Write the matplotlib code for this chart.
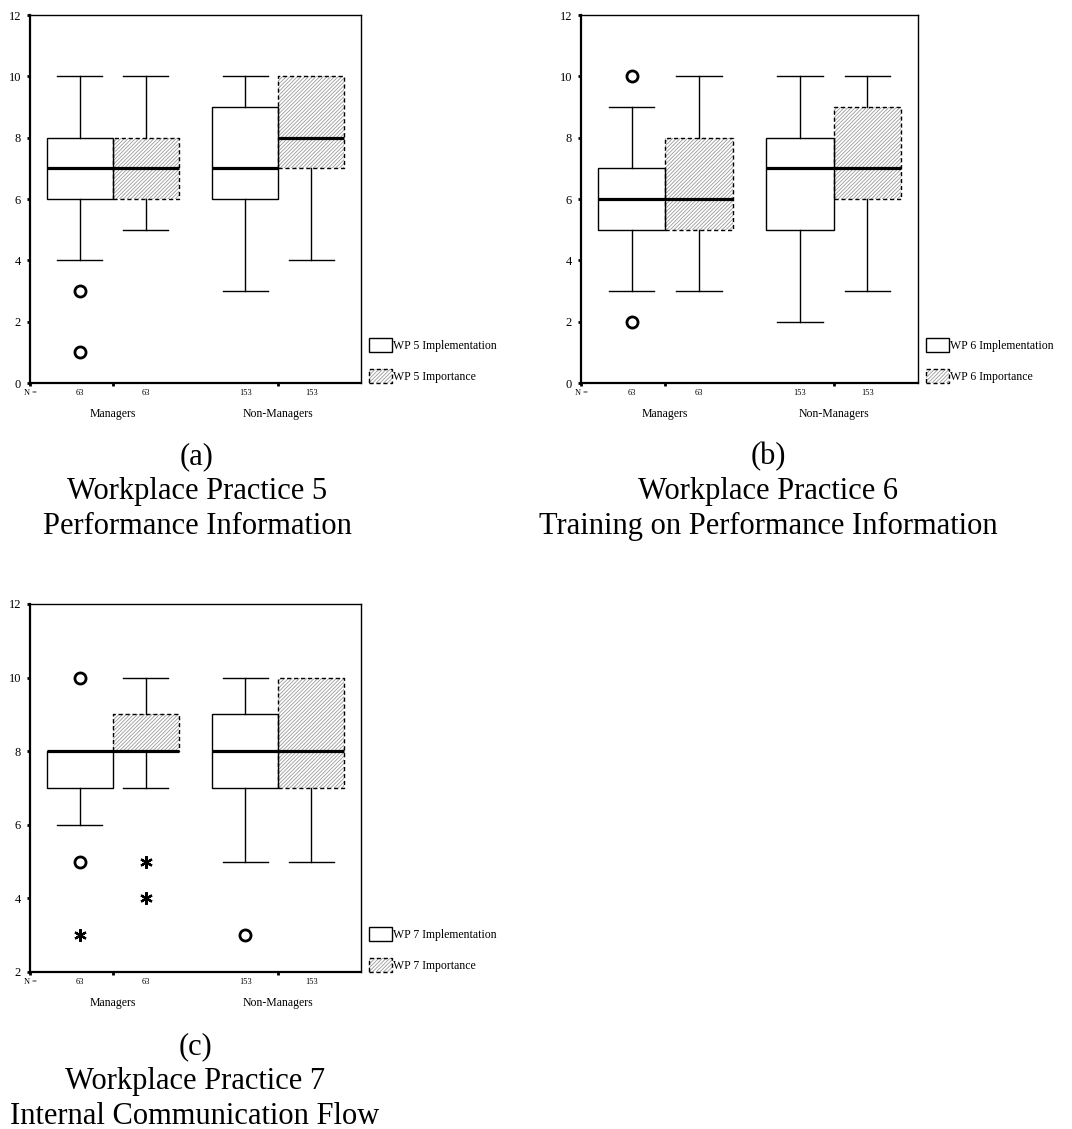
import matplotlib
matplotlib.use("Agg")
import matplotlib.pyplot as plt
from matplotlib.patches import Patch
from matplotlib.legend_handler import HandlerTuple

plt.rcParams['font.family'] = ['Liberation Serif', 'DejaVu Serif']
plt.rcParams['hatch.linewidth'] = 0.6

groups = ["Managers", "Non-Managers"]
group_n = [63, 153]

# five-number summaries per group: (low whisker, q1, median, q3, high whisker)
wp5_impl = [(4, 6, 7, 8, 10), (3, 6, 7, 9, 10)]
wp5_imp = [(5, 6, 7, 8, 10), (4, 7, 8, 10, 10)]
wp5_impl_out = [[3, 1], []]
wp5_imp_out = [[], []]
wp5_impl_ext = [[], []]
wp5_imp_ext = [[], []]

wp6_impl = [(3, 5, 6, 7, 9), (2, 5, 7, 8, 10)]
wp6_imp = [(3, 5, 6, 8, 10), (3, 6, 7, 9, 10)]
wp6_impl_out = [[10, 2], []]
wp6_imp_out = [[], []]
wp6_impl_ext = [[], []]
wp6_imp_ext = [[], []]

wp7_impl = [(6, 7, 8, 8, 8), (5, 7, 8, 9, 10)]
wp7_imp = [(7, 8, 8, 9, 10), (5, 7, 8, 10, 10)]
wp7_impl_out = [[10, 5], [3]]
wp7_imp_out = [[], []]
wp7_impl_ext = [[3], []]
wp7_imp_ext = [[5, 4], []]

captions = [
    ["(a)", "Workplace Practice 5", "Performance Information"],
    ["(b)", "Workplace Practice 6", "Training on Performance Information"],
    ["(c)", "Workplace Practice 7", "Internal Communication Flow"],
]

IMPL_POS = [0.75, 3.25]
IMP_POS = [1.75, 4.25]
GROUP_POS = [1.25, 3.75]
HATCH = '/' * 9
HATCH_GREY = '#9a9a9a'


def to_stats(summaries, outliers):
    return [dict(whislo=s[0], q1=s[1], med=s[2], q3=s[3], whishi=s[4], fliers=o)
            for s, o in zip(summaries, outliers)]


def draw_panel(ax, wp, impl, imp, impl_out, imp_out, impl_ext, imp_ext, ylow):
    line = dict(color='black', linewidth=1.0)
    median = dict(color='black', linewidth=2.3)
    flier = dict(marker='o', markerfacecolor='none', markeredgecolor='black',
                 markeredgewidth=2, markersize=8, linestyle='none')

    # implementation: plain white boxes
    ax.bxp(to_stats(impl, impl_out), positions=IMPL_POS, widths=1.0, capwidths=0.68,
           patch_artist=True, boxprops=dict(facecolor='white', edgecolor='black', linewidth=1.0),
           whiskerprops=line, capprops=line, medianprops=median, flierprops=flier,
           manage_ticks=False, zorder=2)

    # importance: grey hatch fill, then dashed outline on top
    imp_stats = to_stats(imp, imp_out)
    ax.bxp(imp_stats, positions=IMP_POS, widths=1.0, patch_artist=True,
           showcaps=False, showfliers=False,
           boxprops=dict(facecolor='white', edgecolor=HATCH_GREY, hatch=HATCH, linewidth=0),
           whiskerprops=dict(visible=False), medianprops=dict(visible=False),
           manage_ticks=False, zorder=1)
    parts = ax.bxp(imp_stats, positions=IMP_POS, widths=1.0, capwidths=0.68,
                   boxprops=dict(color='black', linewidth=1.0, linestyle=(0, (3, 2))),
                   whiskerprops=line, capprops=line, medianprops=median, flierprops=flier,
                   manage_ticks=False, zorder=2)
    for i, s in enumerate(imp_stats):
        if s['whishi'] == s['q3']:
            parts['caps'][2 * i + 1].set_visible(False)

    # extreme values as asterisks
    for pos, ext in zip(IMPL_POS + IMP_POS, impl_ext + imp_ext):
        if ext:
            ax.plot([pos] * len(ext), ext, linestyle='none', marker=(6, 2, 0),
                    markersize=9, markeredgewidth=1.6, color='black', zorder=3)

    ax.set_xlim(0, 5)
    ax.set_ylim(ylow, 12)
    ax.set_yticks(range(ylow, 13, 2))
    ax.set_xticks([0] + GROUP_POS)
    ax.set_xticklabels([])
    ax.tick_params(length=2.5, width=2, direction='out', colors='black')
    ax.tick_params(axis='y', labelsize=9, pad=4)
    for side in ['left', 'bottom']:
        ax.spines[side].set_linewidth(1.6)
    for side in ['top', 'right']:
        ax.spines[side].set_linewidth(1.0)

    # counts and group names below the axis
    ax.annotate("N =", xy=(0, 0), xycoords=('data', 'axes fraction'), xytext=(0, -7.5),
                textcoords='offset points', ha='center', va='center', fontsize=6)
    for g, n in enumerate(group_n):
        for pos in (IMPL_POS[g], IMP_POS[g]):
            ax.annotate(str(n), xy=(pos, 0), xycoords=('data', 'axes fraction'),
                        xytext=(0, -7.5), textcoords='offset points',
                        ha='center', va='center', fontsize=6)
        ax.annotate(groups[g], xy=(GROUP_POS[g], 0), xycoords=('data', 'axes fraction'),
                    xytext=(0, -22), textcoords='offset points',
                    ha='center', va='center', fontsize=8.5)

    handles = [Patch(facecolor='white', edgecolor='black', linewidth=1.0),
               (Patch(facecolor='white', edgecolor=HATCH_GREY, hatch=HATCH, linewidth=0),
                Patch(fill=False, edgecolor='black', linestyle=(0, (3, 2)), linewidth=1.0))]
    labels = [f"WP {wp} Implementation", f"WP {wp} Importance"]
    ax.legend(handles, labels, handler_map={tuple: HandlerTuple(ndivide=1, pad=0)},
              loc='lower left', bbox_to_anchor=(1.024, 0.0), frameon=False, fontsize=8.5,
              handlelength=1.95, handleheight=1.4, handletextpad=0.1, labelspacing=1.45,
              borderpad=0, borderaxespad=0)


W, H = 1072, 1129
fig = plt.figure(figsize=(W / 100, H / 100), dpi=100)

ax_a = fig.add_axes([30 / W, 1 - 383 / H, 331 / W, 368 / H])
ax_b = fig.add_axes([581 / W, 1 - 383 / H, 337 / W, 368 / H])
ax_c = fig.add_axes([30 / W, 1 - 972 / H, 331 / W, 368 / H])

draw_panel(ax_a, 5, wp5_impl, wp5_imp, wp5_impl_out, wp5_imp_out, wp5_impl_ext, wp5_imp_ext, 0)
draw_panel(ax_b, 6, wp6_impl, wp6_imp, wp6_impl_out, wp6_imp_out, wp6_impl_ext, wp6_imp_ext, 0)
draw_panel(ax_c, 7, wp7_impl, wp7_imp, wp7_impl_out, wp7_imp_out, wp7_impl_ext, wp7_imp_ext, 2)

# captions under each panel
for lines, cx, base in [(captions[0], 197, 464), (captions[1], 768, 464), (captions[2], 195, 1054)]:
    for k, txt in enumerate(lines):
        fig.text(cx / W, 1 - (base + 35 * k) / H, txt, ha='center', va='baseline', fontsize=22)

fig.savefig("out.png", dpi=100)
